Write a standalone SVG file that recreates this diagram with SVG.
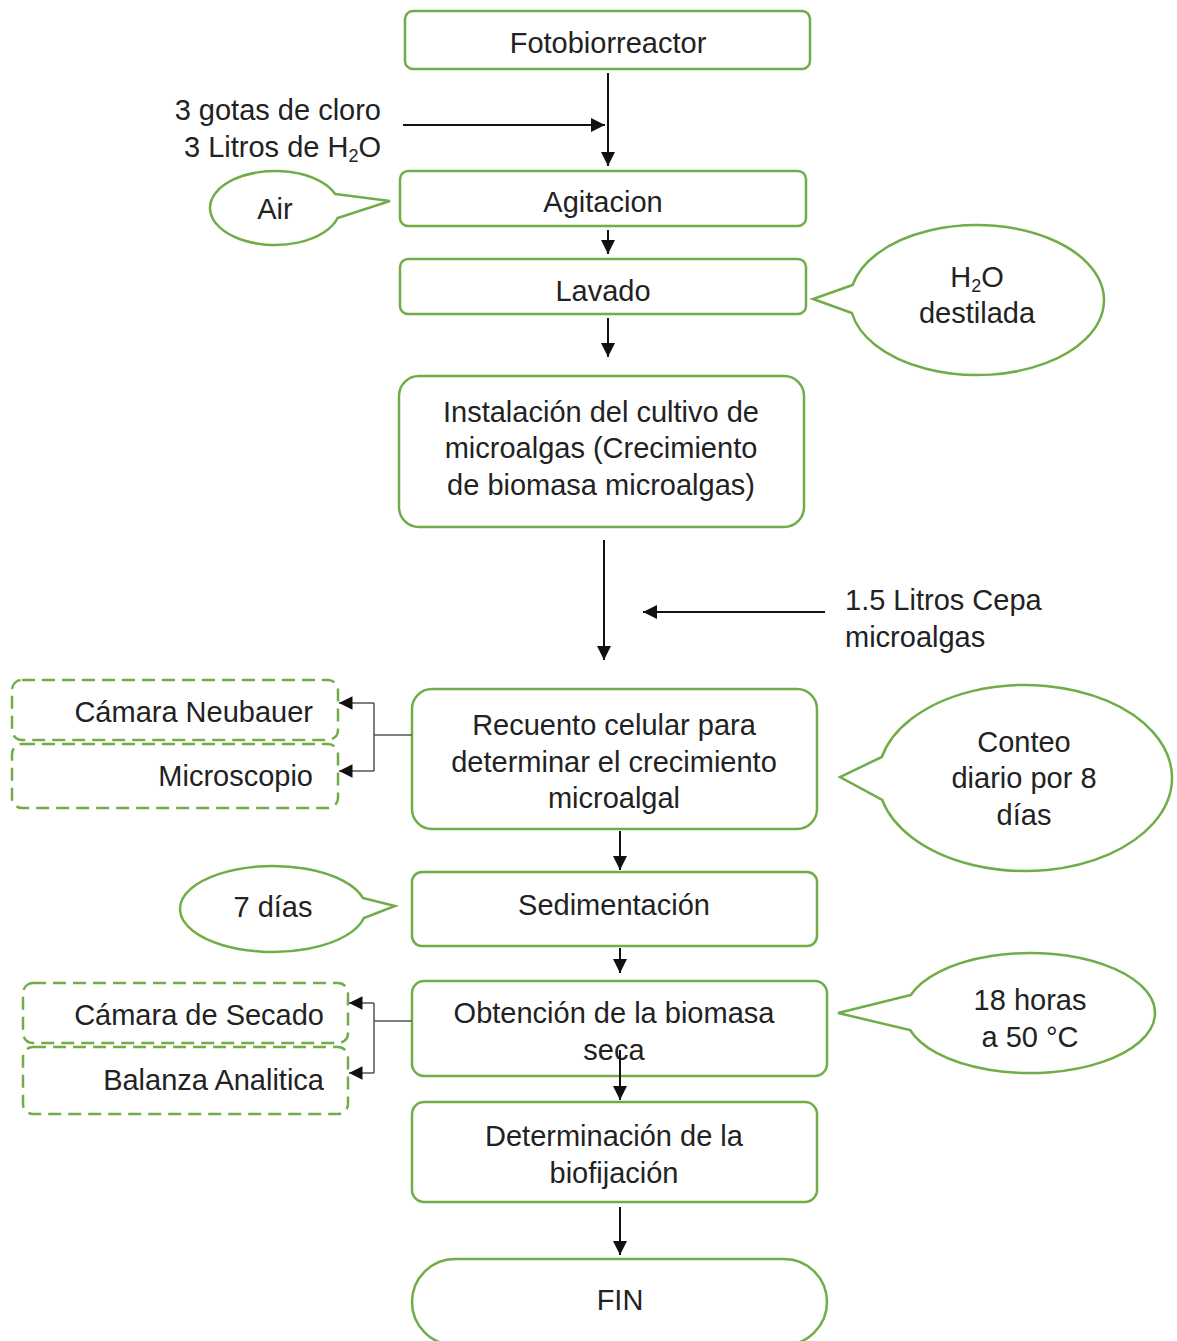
<svg xmlns="http://www.w3.org/2000/svg" width="1177" height="1341" viewBox="0 0 1177 1341">
<defs>
<style>
.box{fill:#fff;stroke:#70ad47;stroke-width:2.5}
.dash{fill:#fff;stroke:#70ad47;stroke-width:2.5;stroke-dasharray:13 7}
.t{font-family:"Liberation Sans",Arial,sans-serif;font-size:29px;fill:#222;text-anchor:middle}
.r{text-anchor:end}
.l{text-anchor:start}
.ln{stroke:#111;stroke-width:2;fill:none}
.gl{stroke:#555;stroke-width:1.5;fill:none}
</style>
<marker id="ah" viewBox="0 0 10 10" refX="10" refY="5" markerWidth="7" markerHeight="7" orient="auto" markerUnits="strokeWidth">
<path d="M0,0 L10,5 L0,10 Z" fill="#111"/>
</marker>
<marker id="ah2" viewBox="0 0 10 10" refX="10" refY="5" markerWidth="9" markerHeight="9" orient="auto" markerUnits="strokeWidth">
<path d="M0,0 L10,5 L0,10 Z" fill="#111"/>
</marker>
</defs>
<rect width="1177" height="1341" fill="#fff"/>

<g id="input1">
<text class="t r" x="381" y="120">3 gotas de cloro</text>
<text class="t r" x="381" y="157">3 Litros de H<tspan font-size="18" dy="5">2</tspan><tspan dy="-5">O</tspan></text>
</g>

<g id="fotobiorreactor">
<rect class="box" x="405" y="11" width="405" height="58" rx="8"/>
<text class="t" x="608" y="53">Fotobiorreactor</text>
</g>

<g id="agitacion">
<rect class="box" x="400" y="171" width="406" height="55" rx="8"/>
<text class="t" x="603" y="212">Agitacion</text>
</g>

<g id="air">
<path class="box" d="M335.2,194 L390,201 L337.6,218 A65,37 0 1 1 335.2,194 Z"/>
<text class="t" x="275" y="219">Air</text>
</g>

<g id="lavado">
<rect class="box" x="400" y="259" width="406" height="55" rx="8"/>
<text class="t" x="603" y="301">Lavado</text>
</g>

<g id="h2o">
<path class="box" d="M852.6,285 L813,299 L851.9,313 A127,75 0 1 0 852.6,285 Z"/>
<text class="t" x="977" y="287">H<tspan font-size="18" dy="5">2</tspan><tspan dy="-5">O</tspan></text>
<text class="t" x="977" y="323">destilada</text>
</g>

<g id="instalacion">
<rect class="box" x="399" y="376" width="405" height="151" rx="20"/>
<text class="t" x="601" y="422">Instalación del cultivo de</text>
<text class="t" x="601" y="458">microalgas (Crecimiento</text>
<text class="t" x="601" y="495">de biomasa microalgas)</text>
</g>

<g id="cepa">
<text class="t l" x="845" y="610">1.5 Litros Cepa</text>
<text class="t l" x="845" y="647">microalgas</text>
</g>

<g id="recuento">
<rect class="box" x="412" y="689" width="405" height="140" rx="20"/>
<text class="t" x="614" y="735">Recuento celular para</text>
<text class="t" x="614" y="772">determinar el crecimiento</text>
<text class="t" x="614" y="808">microalgal</text>
</g>

<g id="neubauer">
<rect class="dash" x="12" y="680" width="326" height="60" rx="10"/>
<text class="t r" x="313" y="722">Cámara Neubauer</text>
</g>

<g id="microscopio">
<rect class="dash" x="12" y="744" width="326" height="64" rx="10"/>
<text class="t r" x="313" y="786">Microscopio</text>
</g>

<g id="conteo">
<path class="box" d="M881.8,757 L840,777 L882.2,800 A147,93 0 1 0 881.8,757 Z"/>
<text class="t" x="1024" y="752">Conteo</text>
<text class="t" x="1024" y="788">diario por 8</text>
<text class="t" x="1024" y="825">días</text>
</g>

<g id="sedimentacion">
<rect class="box" x="412" y="872" width="405" height="74" rx="10"/>
<text class="t" x="614" y="915">Sedimentación</text>
</g>

<g id="dias7">
<path class="box" d="M362.9,898 L395,906 L363.9,918 A93,43 0 1 1 362.9,898 Z"/>
<text class="t" x="273" y="917">7 días</text>
</g>

<g id="obtencion">
<rect class="box" x="412" y="981" width="415" height="95" rx="12"/>
<text class="t" x="614" y="1023">Obtención de la biomasa</text>
<text class="t" x="614" y="1060">seca</text>
</g>

<g id="secado">
<rect class="dash" x="23" y="983" width="325" height="60" rx="10"/>
<text class="t r" x="324" y="1025">Cámara de Secado</text>
</g>

<g id="balanza">
<rect class="dash" x="23" y="1047" width="325" height="67" rx="10"/>
<text class="t r" x="324" y="1090">Balanza Analitica</text>
</g>

<g id="horas18">
<path class="box" d="M910.8,995 L838,1013 L910.1,1030 A125,60 0 1 0 910.8,995 Z"/>
<text class="t" x="1030" y="1010">18 horas</text>
<text class="t" x="1030" y="1047">a 50 °C</text>
</g>

<g id="determinacion">
<rect class="box" x="412" y="1102" width="405" height="100" rx="12"/>
<text class="t" x="614" y="1146">Determinación de la</text>
<text class="t" x="614" y="1183">biofijación</text>
</g>

<g id="fin">
<rect class="box" x="412" y="1259" width="415" height="86" rx="43"/>
<text class="t" x="620" y="1310">FIN</text>
</g>

<g id="connectors">
<line class="ln" x1="608" y1="73" x2="608" y2="166" marker-end="url(#ah)"/>
<line class="ln" x1="403" y1="125" x2="605" y2="125" marker-end="url(#ah)"/>
<line class="ln" x1="608" y1="230" x2="608" y2="254" marker-end="url(#ah)"/>
<line class="ln" x1="608" y1="318" x2="608" y2="357" marker-end="url(#ah)"/>
<line class="ln" x1="604" y1="540" x2="604" y2="660" marker-end="url(#ah)"/>
<line class="ln" x1="825" y1="612" x2="643" y2="612" marker-end="url(#ah)"/>
<line class="ln" x1="620" y1="831" x2="620" y2="870" marker-end="url(#ah)"/>
<line class="ln" x1="620" y1="948" x2="620" y2="973" marker-end="url(#ah)"/>
<line class="ln" x1="620" y1="1050" x2="620" y2="1100" marker-end="url(#ah)"/>
<line class="ln" x1="620" y1="1207" x2="620" y2="1255" marker-end="url(#ah)"/>
<path class="gl" d="M412,735 H374 M374,703 V771"/>
<line class="gl" x1="374" y1="703" x2="339" y2="703" marker-end="url(#ah2)"/>
<line class="gl" x1="374" y1="771" x2="339" y2="771" marker-end="url(#ah2)"/>
<path class="gl" d="M412,1021 H374 M374,1003 V1073"/>
<line class="gl" x1="374" y1="1003" x2="349" y2="1003" marker-end="url(#ah2)"/>
<line class="gl" x1="374" y1="1073" x2="349" y2="1073" marker-end="url(#ah2)"/>
</g>
</svg>
